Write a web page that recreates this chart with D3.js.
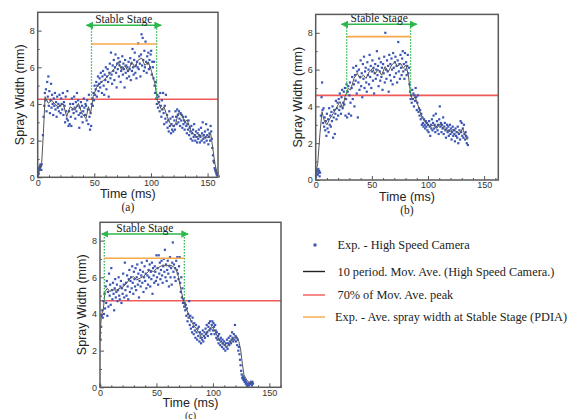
<!DOCTYPE html>
<html>
<head>
<meta charset="utf-8">
<script src="https://cdn.jsdelivr.net/npm/d3@7"></script>
<style>
  body { margin: 0; background: #fff; }
  svg { display: block; }
  .tick text { font-family: "Liberation Sans", Arial, sans-serif; font-size: 9px; fill: #333; }
  .tick line { stroke: #555; }
  .title { font-family: "Liberation Sans", Arial, sans-serif; font-size: 12.5px; fill: #222; }
  .serif { font-family: "Liberation Serif", "Times New Roman", serif; fill: #222; }
</style>
</head>
<body>
<div id="vis"></div>
<script>
const WIDTH = 581;
const HEIGHT = 419;

// scatter points [time ms, width mm] - high speed camera
const scatterA = [[0.3,0.1],[0.6,0.3],[0.9,0.2],[1.2,0.5],[1.5,0.4],[1.8,0.6],[2.1,0.5],[2.4,0.7],[2.8,0.6],[3.2,0.4],[3.5,0.7],
[4.6,2.3],[5.2,3.3],[5.8,3.9],[6.3,4.6],[6.8,4.2],[7.3,4.8],[7.8,3.6],
[8.4,5.2],[8.9,4.4],[9.4,5.5],[9.8,3.9],[10.3,4.7],[10.8,3.5],[11.3,4.2],[11.8,5.1],[12.2,3.8],[12.7,4.5],[13.2,4.0],[13.7,3.4],[14.2,4.3],[14.7,3.9],[15.2,4.6],[15.7,3.7],[16.2,4.1],[16.7,3.3],[17.2,4.4],[17.7,3.8],[18.2,4.0],[18.7,3.6],[19.2,4.5],[19.7,3.9],[20.2,3.5],[20.7,4.3],[21.2,4.0],[21.7,3.7],[22.2,4.6],[22.7,3.4],[23.2,4.1],[23.7,3.9],[24.2,3.0],[24.7,4.4],[25.2,3.6],[25.7,3.2],[26.2,4.7],[26.7,3.1],[27.2,2.8],[27.7,3.6],[28.2,2.9],[28.7,4.0],[29.2,3.3],[29.7,2.8],[30.2,4.3],[30.7,3.7],[31.2,4.0],[31.7,3.5],[32.2,4.4],[32.7,3.8],[33.2,3.2],[33.7,4.1],[34.2,3.6],[34.7,4.6],[35.2,3.9],[35.7,4.2],[36.2,3.4],[36.7,2.7],[37.2,3.8],[37.7,3.5],[38.2,4.1],[38.7,3.3],[39.2,3.9],[39.7,3.0],[40.2,3.6],[40.7,4.3],[41.2,3.8],[41.7,3.4],[42.2,4.0],[42.7,3.9],[43.2,3.1],[43.7,4.2],[44.2,3.7],[44.7,2.9],[45.2,4.5],[45.7,3.3],[46.2,2.6],[46.7,3.5],[47.2,2.8],
[47.7,4.0],[48.2,4.3],[48.7,3.9],[49.2,4.6],[49.7,4.2],[50.2,5.0],[50.7,4.5],[51.2,4.8],[51.7,5.2],[52.2,4.4],[52.7,5.0],[53.2,5.5],[53.7,4.7],[54.2,5.1],[54.7,5.4],[55.2,4.9],[55.7,5.7],[56.2,5.2],[56.7,4.6],[57.2,5.5],[57.7,5.8],[58.2,5.0],[58.7,4.5],[59.2,5.6],[59.7,5.3],[60.2,6.0],[60.7,4.8],[61.2,5.5],[61.7,5.9],[62.2,5.2],[62.7,4.4],[63.2,5.7],[63.7,6.2],[64.2,5.4],[64.7,6.8],[65.2,5.6],[65.7,5.1],[66.2,6.1],[66.7,5.8],[67.2,6.4],[67.7,5.3],[68.2,6.0],[68.7,6.7],[69.2,5.7],[69.7,4.9],[70.2,6.2],[70.7,5.9],[71.2,6.5],[71.7,5.5],[72.2,6.1],[72.7,6.3],[73.2,5.2],[73.7,5.8],[74.2,6.0],[74.7,6.6],[75.2,5.6],[75.7,6.2],[76.2,5.9],[76.7,4.9],[77.2,6.4],[77.7,5.7],[78.2,6.1],[78.7,5.4],[79.2,6.0],[79.7,5.8],[80.2,6.3],[80.7,5.5],[81.2,5.9],[81.7,6.5],[82.2,5.3],[82.7,6.2],[83.2,5.8],[83.7,7.0],[84.2,6.0],[84.7,5.6],[85.2,6.4],[85.7,6.8],[86.2,5.7],[86.7,6.1],[87.2,5.4],[87.7,6.3],[88.2,6.0],[88.7,7.3],[89.2,5.9],[89.7,6.6],[90.2,6.2],[90.7,5.5],[91.2,6.7],[91.7,7.8],[92.2,6.1],[92.7,7.6],[93.2,6.4],[93.7,5.8],[94.2,6.9],[94.7,6.0],[95.2,7.4],[95.7,6.3],[96.2,5.7],[96.7,6.6],[97.2,6.2],[97.7,6.8],[98.2,5.9],[98.7,6.4],[99.2,6.0],[99.7,6.7],[100.2,6.9],[100.7,5.6],[101.2,6.3],[101.7,6.0],[102.2,5.4],[102.7,6.3],[103.2,5.0],[103.7,4.6],[104.2,5.2],[104.7,4.3],
[105.2,4.0],[105.7,4.5],[106.2,3.8],[106.7,4.4],[107.2,4.1],[107.7,3.6],[108.2,4.6],[108.7,3.9],[109.2,3.3],[109.7,4.2],[110.2,3.7],[110.7,4.6],[111.2,3.5],[111.7,2.9],[112.2,3.9],[112.7,3.2],[113.2,4.5],[113.7,3.0],[114.2,3.4],[114.7,2.7],[115.2,3.1],[115.7,2.5],[116.2,3.6],[116.7,2.8],[117.2,3.2],[117.7,2.4],[118.2,2.9],[118.7,2.6],[119.2,3.3],[119.7,2.5],[120.2,2.8],[120.7,3.1],[121.2,2.6],[121.7,3.6],[122.2,3.3],[122.7,2.9],[123.2,3.7],[123.7,3.4],[124.2,3.0],[124.7,3.6],[125.2,3.2],[125.7,2.8],[126.2,3.5],[126.7,3.1],[127.2,3.4],[127.7,2.7],[128.2,3.3],[128.7,2.9],[129.2,3.1],[129.7,2.6],[130.2,3.0],[130.7,3.3],[131.2,2.8],[131.7,2.4],[132.2,2.9],[132.7,2.6],[133.2,3.1],[133.7,2.3],[134.2,2.7],[134.7,2.5],[135.2,2.1],[135.7,2.8],[136.2,2.4],[136.7,2.0],[137.2,2.6],[137.7,2.2],[138.2,2.9],[138.7,2.3],[139.2,2.0],[139.7,2.5],[140.2,2.2],[140.7,1.9],[141.2,2.4],[141.7,2.1],[142.2,2.6],[142.7,2.3],[143.2,1.9],[143.7,2.2],[144.2,2.7],[144.7,2.0],[145.2,2.4],[145.7,3.0],[146.2,2.1],[146.7,2.3],[147.2,1.9],[147.7,2.5],[148.2,2.2],[148.7,2.9],[149.2,2.0],[149.7,2.3],[150.2,2.6],[150.7,1.8],[151.2,2.2],[151.7,2.4],[152.2,2.0],[152.7,2.8],[153.2,2.5],[153.7,2.1],[154.2,1.6],[154.7,1.2],[155.2,0.9],[155.7,0.8],[156.2,0.5],[156.7,0.4],[157.2,0.3],[157.7,0.2],[158.2,0.1],[158.6,0.2]];

const scatterB = [[0.3,0.2],[0.7,0.4],[1.1,0.3],[1.5,0.5],[1.9,0.3],[2.3,0.6],[2.7,0.4],[3.1,0.5],[3.5,0.2],[3.9,0.4],
[4.6,3.5],[5.2,4.5],[5.7,5.3],[6.1,3.8],[6.6,3.1],[7.0,3.9],[7.5,2.9],[8.0,3.4],[8.5,2.7],[9.0,3.2],[9.5,2.4],[10.0,3.6],[10.5,2.8],[11.0,3.3],[11.5,2.6],[12.0,3.9],[12.5,3.0],[13.0,3.5],[13.5,2.9],[14.0,3.7],[14.5,3.2],[15.0,4.0],[15.5,2.3],[16.0,3.4],[16.5,3.8],[17.0,2.5],[17.5,3.6],[18.0,4.3],[18.5,3.3],[19.0,3.9],[19.5,4.2],[20.0,3.5],[20.5,4.4],[21.0,3.8],[21.5,4.7],[22.0,4.0],[22.5,3.6],[23.0,4.5],[23.5,4.9],[24.0,3.9],[24.5,4.2],[25.0,4.8],[25.5,4.1],[26.0,5.0],[26.5,3.5],[27.0,4.4],[27.5,5.2],[28.0,3.4],[28.5,4.8],[29.0,5.1],[29.5,3.6],[30.0,4.6],[30.5,5.3],[31.0,4.2],[31.5,3.5],[32.0,5.0],[32.5,5.6],[33.0,4.4],[33.5,6.1],[34.0,5.2],[34.5,4.0],[35.0,5.7],[35.5,5.4],[36.0,6.2],[36.5,4.7],[37.0,5.9],[37.5,3.4],[38.0,5.3],[38.5,6.0],[39.0,4.9],[39.5,5.6],[40.0,6.5],[40.5,5.1],[41.0,5.8],[41.5,4.5],[42.0,6.3],[42.5,5.5],[43.0,6.7],[43.5,5.0],[44.0,5.9],[44.5,6.1],[45.0,5.3],[45.5,4.8],[46.0,6.4],[46.5,5.7],[47.0,6.0],[47.5,5.2],[48.0,6.8],[48.5,5.6],[49.0,6.2],[49.5,5.0],[50.0,5.9],[50.5,6.5],[51.0,5.4],[51.5,6.1],[52.0,4.7],[52.5,5.8],[53.0,6.3],[53.5,5.5],[54.0,6.0],[54.5,7.0],[55.0,5.7],[55.5,6.2],[56.0,5.1],[56.5,6.6],[57.0,5.9],[57.5,5.4],[58.0,6.4],[58.5,5.6],[59.0,6.1],[59.5,4.9],[60.0,6.3],[60.5,5.8],[61.0,6.7],[61.5,5.3],[62.0,8.0],[62.5,6.0],[63.0,5.5],[63.5,6.5],[64.0,5.9],[64.5,6.2],[65.0,4.8],[65.5,6.8],[66.0,5.7],[66.5,6.3],[67.0,5.4],[67.5,6.6],[68.0,6.0],[68.5,5.2],[69.0,6.9],[69.5,6.1],[70.0,5.6],[70.5,6.4],[71.0,6.7],[71.5,5.8],[72.0,6.2],[72.5,5.3],[73.0,6.5],[73.5,7.5],[74.0,5.9],[74.5,6.3],[75.0,5.5],[75.5,6.8],[76.0,6.1],[76.5,5.7],[77.0,6.6],[77.5,7.0],[78.0,5.9],[78.5,6.3],[79.0,5.5],[79.5,6.9],[80.0,6.0],[80.5,6.4],[81.0,5.7],[81.5,6.2],[82.0,6.8],[82.5,5.8],[83.0,6.1],[83.5,5.2],[84.0,4.8],[84.5,4.4],[85.0,4.6],[85.5,4.2],[86.0,4.9],[86.5,4.4],[87.0,4.7],[87.5,4.0],[88.0,4.6],[88.5,4.3],[89.0,5.0],[89.5,4.5],[90.0,3.8],[90.5,4.2],[91.0,4.6],[91.5,3.7],[92.0,3.9],[92.5,3.5],[93.0,3.8],[93.5,3.3],[94.0,3.6],[94.5,3.0],[95.0,3.4],[95.5,3.1],[96.0,2.9],[96.5,3.3],[97.0,3.0],[97.5,2.8],[98.0,3.2],[98.5,2.9],[99.0,3.1],[99.5,2.7],[100.0,3.0],[100.5,2.6],[101.0,3.2],[101.5,2.9],[102.0,2.4],[102.5,3.0],[103.0,2.8],[103.5,3.3],[104.0,2.7],[104.5,3.1],[105.0,3.5],[105.5,2.8],[106.0,3.0],[106.5,2.6],[107.0,3.6],[107.5,2.9],[108.0,3.2],[108.5,2.7],[109.0,3.0],[109.5,2.5],[110.0,3.3],[110.5,4.0],[111.0,2.9],[111.5,3.1],[112.0,2.6],[112.5,3.0],[113.0,2.8],[113.5,3.4],[114.0,2.5],[114.5,2.9],[115.0,3.1],[115.5,2.7],[116.0,2.3],[116.5,2.8],[117.0,3.0],[117.5,2.6],[118.0,2.9],[118.5,2.4],[119.0,2.7],[119.5,3.0],[120.0,2.5],[120.5,2.8],[121.0,2.2],[121.5,2.6],[122.0,2.9],[122.5,2.4],[123.0,2.7],[123.5,2.5],[124.0,2.1],[124.5,2.8],[125.0,2.4],[125.5,2.6],[126.0,2.3],[126.5,2.9],[127.0,2.0],[127.5,2.5],[128.0,2.7],[128.5,2.2],[129.0,3.2],[129.5,2.6],[130.0,3.1],[130.5,2.4],[131.0,2.8],[131.5,2.3],[132.0,3.0],[132.5,2.5],[133.0,2.2],[133.5,2.6],[134.0,2.4],[134.5,2.0],[135.0,2.3],[135.5,1.9]];

const scatterC = [[0.2,0.1],[0.6,2.6],[1.0,3.3],[1.5,3.9],[2.0,4.2],[2.5,3.8],[3.0,4.7],[3.5,4.0],[4.0,5.1],[4.5,4.3],[5.0,5.5],[5.5,4.6],[6.0,5.8],[6.5,3.9],[7.0,5.2],[7.5,4.4],[8.0,6.2],[8.5,5.0],[9.0,5.6],[9.5,4.5],[10.0,6.5],[10.5,5.3],[11.0,4.8],[11.5,5.7],[12.0,5.1],[12.5,4.2],[13.0,5.4],[13.5,5.9],[14.0,4.9],[14.5,5.2],[15.0,5.6],[15.5,4.7],[16.0,5.3],[16.5,6.0],[17.0,5.0],[17.5,4.8],[18.0,5.5],[18.5,5.8],[19.0,4.6],[19.5,5.4],[20.0,5.1],[20.5,6.2],[21.0,5.6],[21.5,4.9],[22.0,6.8],[22.5,5.3],[23.0,5.7],[23.5,5.0],[24.0,6.1],[24.5,5.5],[25.0,4.8],[25.5,5.9],[26.0,6.4],[26.5,5.2],[27.0,5.8],[27.5,6.0],[28.0,5.4],[28.5,6.6],[29.0,5.7],[29.5,5.1],[30.0,6.3],[30.5,5.9],[31.0,5.5],[31.5,6.5],[32.0,5.3],[32.5,6.0],[33.0,6.7],[33.5,5.6],[34.0,6.2],[34.5,4.9],[35.0,5.8],[35.5,6.4],[36.0,5.5],[36.5,6.1],[37.0,6.8],[37.5,5.7],[38.0,6.3],[38.5,5.2],[39.0,6.0],[39.5,6.6],[40.0,5.8],[40.5,6.2],[41.0,5.4],[41.5,6.9],[42.0,6.1],[42.5,5.6],[43.0,6.4],[43.5,6.0],[44.0,6.7],[44.5,5.5],[45.0,6.3],[45.5,5.9],[46.0,6.8],[46.5,5.1],[47.0,6.5],[47.5,6.1],[48.0,5.7],[48.5,6.6],[49.0,6.3],[49.5,5.8],[50.0,7.2],[50.5,6.0],[51.0,6.5],[51.5,5.6],[52.0,7.2],[52.5,6.2],[53.0,6.8],[53.5,5.9],[54.0,6.4],[54.5,6.9],[55.0,6.1],[55.5,5.7],[56.0,6.6],[56.5,7.0],[57.0,6.3],[57.5,7.5],[58.0,6.0],[58.5,6.7],[59.0,5.8],[59.5,6.4],[60.0,6.9],[60.5,6.2],[61.0,5.5],[61.5,6.6],[62.0,7.1],[62.5,6.0],[63.0,6.5],[63.5,5.6],[64.0,6.8],[64.5,7.9],[65.0,6.3],[65.5,6.7],[66.0,6.0],[66.5,6.5],[67.0,5.8],[67.5,6.9],[68.0,6.4],[68.5,7.1],[69.0,6.2],[69.5,5.9],[70.0,6.6],[70.5,7.1],[71.0,5.7],[71.5,5.2],[72.0,6.0],[72.5,4.9],[73.0,5.4],[73.5,4.6],[74.0,4.8],[74.5,4.4],[75.0,4.6],[75.5,4.2],[76.0,4.5],[76.5,3.9],[77.0,4.3],[77.5,3.6],[78.0,4.0],[78.5,3.8],[79.0,4.7],[79.5,3.4],[80.0,3.9],[80.5,3.2],[81.0,3.6],[81.5,3.0],[82.0,3.8],[82.5,3.3],[83.0,2.9],[83.5,3.5],[84.0,3.1],[84.5,2.7],[85.0,3.4],[85.5,3.0],[86.0,2.6],[86.5,3.2],[87.0,2.8],[87.5,3.3],[88.0,2.5],[88.5,3.0],[89.0,2.7],[89.5,2.4],[90.0,2.9],[90.5,2.6],[91.0,3.1],[91.5,2.5],[92.0,2.8],[92.5,3.0],[93.0,2.7],[93.5,3.2],[94.0,2.9],[94.5,3.4],[95.0,3.0],[95.5,2.8],[96.0,3.3],[96.5,3.5],[97.0,3.1],[97.5,3.6],[98.0,3.2],[98.5,2.9],[99.0,3.4],[99.5,3.6],[100.0,3.1],[100.5,3.5],[101.0,3.3],[101.5,2.9],[102.0,3.4],[102.5,3.1],[103.0,2.7],[103.5,3.0],[104.0,2.6],[104.5,2.8],[105.0,2.4],[105.5,2.9],[106.0,2.6],[106.5,2.3],[107.0,2.7],[107.5,2.5],[108.0,2.2],[108.5,2.6],[109.0,2.4],[109.5,2.1],[110.0,2.5],[110.5,2.3],[111.0,2.0],[111.5,2.4],[112.0,2.2],[112.5,2.6],[113.0,2.1],[113.5,2.4],[114.0,2.7],[114.5,2.3],[115.0,2.5],[115.5,2.8],[116.0,2.4],[116.5,2.6],[117.0,3.0],[117.5,2.7],[118.0,2.5],[118.5,2.9],[119.0,2.6],[119.5,3.4],[120.0,2.8],[120.5,2.5],[121.0,2.7],[121.5,2.3],[122.0,2.6],[122.5,2.0],[123.0,2.2],[123.5,1.8],[124.0,1.5],[124.5,1.2],[125.0,0.9],[125.5,0.7],[126.0,0.5],[126.5,0.6],[127.0,0.4],[127.5,0.5],[128.0,0.3],[128.5,0.4],[129.0,0.2],[129.5,0.3],[130.0,0.1],[130.5,0.2],[131.0,0.1],[131.5,0.2],[132.0,0.1],[132.5,0.2],[133.0,0.2],[133.5,0.3],[134.0,0.2],[134.5,0.1],[135.0,0.3],[135.5,0.2]];

// 10 period moving average
const movA = [[0,0.2],[1.5,0.4],[3.5,0.76],[5,2.4],[6.5,4.4],[9.4,4.04],[12.4,4.2],[15,4.0],[18,3.85],[22.6,4.0],[25.6,3.3],[28.6,3.85],[33,3.67],[36,4.03],[39,3.5],[42.6,3.2],[44.8,3.85],[46.7,3.5],[49,4.4],[52,4.9],[56.5,5.2],[60.9,5.45],[65.3,5.76],[68.2,5.95],[71.2,6.3],[74.1,5.85],[77,6.1],[80,5.76],[82.9,6.3],[85.9,6.0],[88.8,6.4],[91.8,6.5],[94.7,6.1],[97.7,6.3],[100.6,5.76],[103.5,5.1],[105.6,4.2],[107.4,3.95],[109.4,3.67],[111.5,3.85],[113.8,3.4],[116.8,2.95],[119.7,2.76],[122,2.95],[124,3.5],[127,3.4],[130,3.04],[132,3.13],[135,2.58],[137.4,2.4],[140,2.2],[144.7,2.3],[147.7,2.12],[150.6,2.2],[152.7,2.4],[154,1.85],[156.4,0.76],[158.5,0.2]];
const movB = [[0,0.36],[1.8,0.9],[3.8,2.53],[5.6,3.71],[7.4,3.26],[9.8,2.99],[12.8,3.35],[15.7,3.62],[19.3,4.02],[21.7,4.26],[24,3.9],[26.1,4.53],[29,4.98],[31.1,4.89],[34.1,5.52],[37,5.8],[39.4,5.52],[42.4,5.7],[44.8,5.52],[47.7,5.89],[50.7,6.07],[52.8,5.76],[55.7,6.01],[58.7,5.7],[61.7,6.16],[64.7,5.89],[67.7,6.25],[70.6,6.43],[72.7,6.16],[75.7,6.34],[78,6.07],[80.4,6.25],[82.5,5.7],[84.6,4.62],[86.4,4.35],[88.5,4.53],[90.5,4.17],[92.9,3.71],[95.3,3.35],[98.2,3.08],[101.8,2.9],[104.7,2.99],[107.7,2.8],[110.7,3.04],[113.6,2.8],[116.6,2.72],[119.6,2.63],[122.5,2.75],[125.5,2.63],[128.4,2.53],[130.8,2.8],[132.9,2.45],[135,2.17]];
const movC = [[0,2.67],[1.2,3.95],[2.9,4.22],[4.4,5.22],[6.5,5.4],[8.6,5.22],[11,5.31],[14.8,5.31],[17.7,5.4],[20.7,5.49],[23.6,5.67],[26.6,5.95],[29.5,6.04],[32.5,5.86],[35.4,5.95],[38.4,6.04],[41.3,6.22],[44.3,6.4],[47.2,6.31],[50.2,6.49],[53.1,6.58],[56,6.67],[59,6.62],[62,6.67],[64.9,6.58],[67.3,6.44],[69.4,6.04],[71.7,5.31],[73.8,4.76],[76.2,4.31],[78.2,4.04],[80.3,3.67],[82.7,3.4],[85,3.22],[88,2.95],[90,2.67],[93,2.85],[96,3.13],[99,3.31],[101,3.16],[103.5,2.85],[106.3,2.49],[109.3,2.31],[112.2,2.22],[115,2.4],[118,2.67],[121,2.76],[123,2.49],[124.6,2.04],[126,1.31],[127.5,0.67],[130,0.4],[132.8,0.22],[135,0.31]];

// 70% of mov. ave. peak, PDIA stable-stage average
const redLevels = [4.26, 4.6, 4.72];
const orangeLevels = [7.27, 7.79, 7.04];
// stable stage start / end (ms), arrow extents (ms), arrow height (mm)
const stageStart = [47.5, 27.6, 3.8];
const stageEnd = [105, 84.5, 74.7];
const arrowFrom = [43, 23, 1.5];
const arrowTo = [109, 90, 78];
const arrowLevel = [8.29, 8.46, 8.36];

const xMajor = [0, 50, 100, 150];
const xMinor = [10, 20, 30, 40, 60, 70, 80, 90, 110, 120, 130, 140, 160];
const yMajor = [0, 2, 4, 6, 8];
const yMinor = [1, 3, 5, 7];
const captions = ["(a)", "(b)", "(c)"];
const legendLabels = ["Exp. - High Speed Camera", "10 period. Mov. Ave. (High Speed Camera.)", "70% of Mov. Ave. peak", "Exp. - Ave. spray width at Stable Stage  (PDIA)"];

const scatters = [scatterA, scatterB, scatterC];
const movs = [movA, movB, movC];

// panel boxes in pixels
const BOXES = [
  {left: 37.7, top: 12.3, right: 218, bottom: 177.3, xMax: 159.2},
  {left: 315.7, top: 14.4, right: 498.3, bottom: 180, xMax: 162.6},
  {left: 100, top: 222.3, right: 281, bottom: 387.3, xMax: 160.3}
];

const COLORS = {dot: "#3a55b4", mov: "#555", red: "#f05a5a", orange: "#f8a848", green: "#2db84d", frame: "#5a5a5a"};

const svg = d3.select("#vis").append("svg")
  .attr("width", WIDTH).attr("height", HEIGHT);
svg.append("rect").attr("width", WIDTH).attr("height", HEIGHT).attr("fill", "#fff");

const defs = svg.append("defs");
defs.append("marker").attr("id", "ah").attr("viewBox", "0 0 10 10")
  .attr("refX", 9).attr("refY", 5).attr("markerWidth", 5).attr("markerHeight", 5)
  .attr("orient", "auto-start-reverse")
  .append("path").attr("d", "M0,0L10,5L0,10z").attr("fill", COLORS.green);

BOXES.forEach((b, i) => {
  const x = d3.scaleLinear().domain([0, b.xMax]).range([b.left, b.right]);
  const y = d3.scaleLinear().domain([0, 9]).range([b.bottom, b.top]);
  const g = svg.append("g");

  g.append("rect")
    .attr("x", b.left).attr("y", b.top)
    .attr("width", b.right - b.left).attr("height", b.bottom - b.top)
    .attr("fill", "#fff");

  // axes with inward ticks
  g.append("g").attr("transform", "translate(0," + b.bottom + ")")
    .call(d3.axisBottom(x).tickValues(xMajor).tickSize(-4).tickPadding(2));
  g.append("g").attr("transform", "translate(0," + b.bottom + ")")
    .call(d3.axisBottom(x).tickValues(xMinor).tickSize(-2).tickFormat(""));
  g.append("g").attr("transform", "translate(" + b.left + ",0)")
    .call(d3.axisLeft(y).tickValues(yMajor).tickSize(-4).tickPadding(3));
  g.append("g").attr("transform", "translate(" + b.left + ",0)")
    .call(d3.axisLeft(y).tickValues(yMinor).tickSize(-2).tickFormat(""));
  g.selectAll(".domain").remove();

  // red 70% line
  g.append("line")
    .attr("x1", b.left).attr("x2", b.right)
    .attr("y1", y(redLevels[i])).attr("y2", y(redLevels[i]))
    .attr("stroke", COLORS.red).attr("stroke-width", 1.6);

  // scatter
  g.selectAll(".pt").data(scatters[i]).enter().append("rect")
    .attr("x", d => x(d[0]) - 1.1).attr("y", d => y(d[1]) - 1.1)
    .attr("width", 2.2).attr("height", 2.2)
    .attr("fill", COLORS.dot);

  // moving average
  g.append("path").datum(movs[i])
    .attr("d", d3.line().x(d => x(d[0])).y(d => y(d[1])))
    .attr("fill", "none").attr("stroke", COLORS.mov).attr("stroke-width", 1);

  // stable stage markers
  const arrowY = y(arrowLevel[i]);
  [stageStart[i], stageEnd[i]].forEach(t => {
    g.append("line")
      .attr("x1", x(t)).attr("x2", x(t))
      .attr("y1", arrowY).attr("y2", y(redLevels[i]))
      .attr("stroke", COLORS.green).attr("stroke-width", 1.3)
      .attr("stroke-dasharray", "1.5,1.5");
  });
  g.append("line")
    .attr("x1", x(stageStart[i])).attr("x2", x(stageEnd[i]))
    .attr("y1", y(orangeLevels[i])).attr("y2", y(orangeLevels[i]))
    .attr("stroke", COLORS.orange).attr("stroke-width", 1.6);
  g.append("line")
    .attr("x1", x(arrowFrom[i])).attr("x2", x(arrowTo[i]))
    .attr("y1", arrowY).attr("y2", arrowY)
    .attr("stroke", COLORS.green).attr("stroke-width", 1.5)
    .attr("marker-start", "url(#ah)").attr("marker-end", "url(#ah)");
  g.append("text").attr("class", "serif")
    .attr("x", (x(arrowFrom[i]) + x(arrowTo[i])) / 2).attr("y", arrowY - 2.5)
    .attr("text-anchor", "middle").attr("font-size", 11.5)
    .text("Stable Stage");

  // frame
  g.append("rect")
    .attr("x", b.left).attr("y", b.top)
    .attr("width", b.right - b.left).attr("height", b.bottom - b.top)
    .attr("fill", "none").attr("stroke", COLORS.frame).attr("stroke-width", 1.5);

  // titles (bottom panel is squeezed against the page edge)
  const cx = (b.left + b.right) / 2;
  const tight = b.bottom + 34 > HEIGHT;
  g.append("text").attr("class", "title")
    .attr("x", cx).attr("y", tight ? b.bottom + 20 : b.bottom + 21)
    .attr("text-anchor", "middle").text("Time (ms)");
  g.append("text").attr("class", "title")
    .attr("transform", "translate(" + (b.left - 14) + "," + ((b.top + b.bottom) / 2) + ") rotate(-90)")
    .attr("text-anchor", "middle").text("Spray Width (mm)");
  g.append("text").attr("class", "serif")
    .attr("x", cx).attr("y", tight ? HEIGHT : b.bottom + 34)
    .attr("text-anchor", "middle").attr("font-size", tight ? 10 : 11.5).text(captions[i]);
});

// legend
const legend = svg.append("g");
const legendY = [245, 271.5, 295, 317];
legend.append("rect").attr("x", 313.5).attr("y", legendY[0] - 1.5)
  .attr("width", 3).attr("height", 3).attr("fill", COLORS.dot);
[COLORS.mov, COLORS.red, COLORS.orange].forEach((c, k) => {
  legend.append("line")
    .attr("x1", 303).attr("x2", 325)
    .attr("y1", legendY[k + 1]).attr("y2", legendY[k + 1])
    .attr("stroke", k === 0 ? "#222" : c).attr("stroke-width", 1.4);
});
legendLabels.forEach((t, k) => {
  legend.append("text").attr("class", "serif")
    .attr("x", k === 3 ? 335 : 337.5).attr("y", legendY[k] + 4)
    .attr("font-size", 12.3).text(t);
});
</script>
</body>
</html>
